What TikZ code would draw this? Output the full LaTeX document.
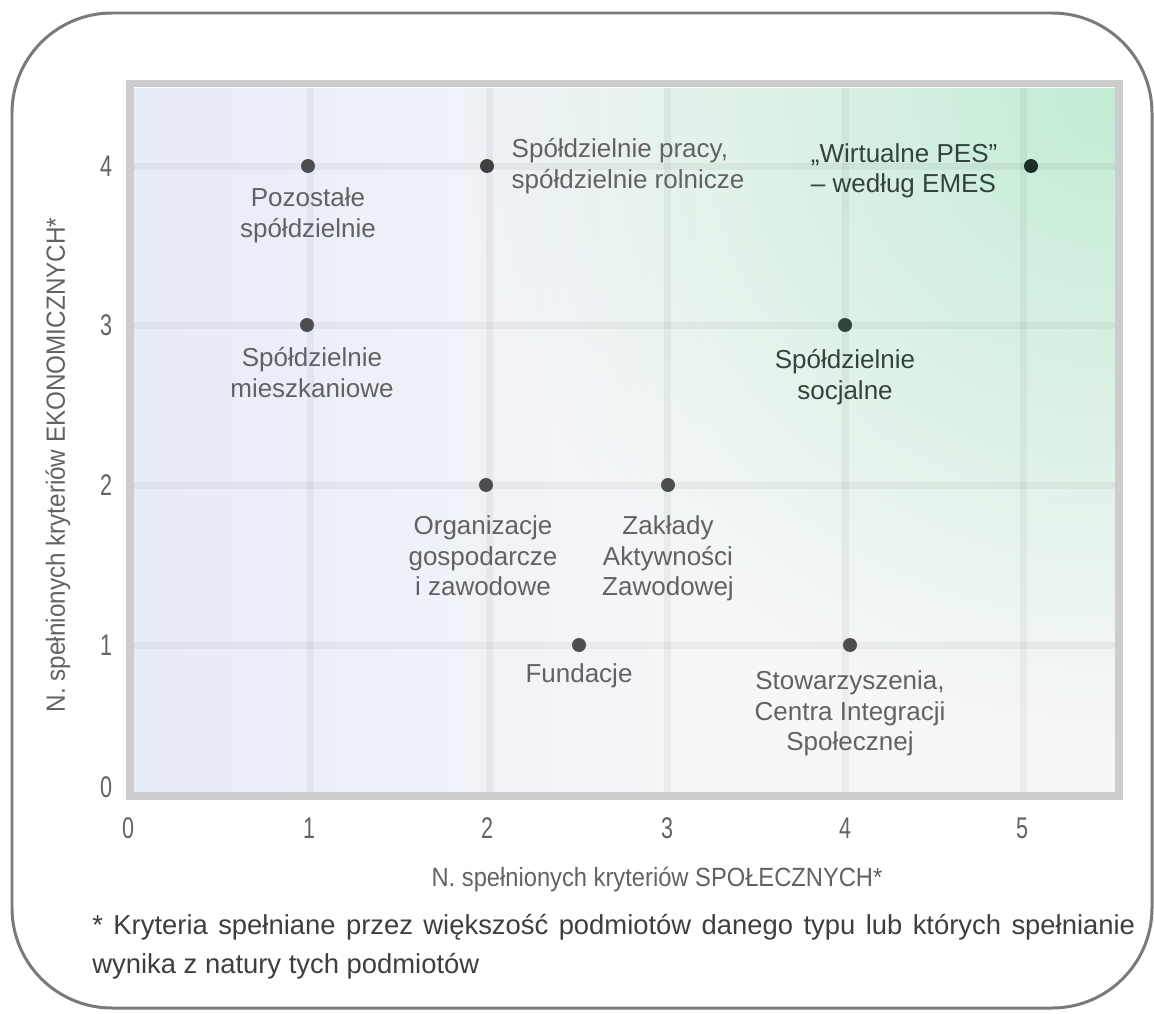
\documentclass[tikz,border=0pt]{standalone}
\usepackage{fontspec}
\setmainfont{Liberation Sans}
\usepackage{graphicx}
\usetikzlibrary{positioning,fadings}

\definecolor{framegray}{HTML}{7A7A7A}
\definecolor{axisgray}{HTML}{CDCDCF}
\definecolor{dotgray}{HTML}{4E4E51}
\definecolor{textgray}{HTML}{626264}
\definecolor{notegray}{HTML}{3E3E40}
\definecolor{bluetint}{HTML}{E7ECF8}
\definecolor{greentint}{HTML}{C2ECD4}
\definecolor{darkgreen}{HTML}{1C2F25}
\definecolor{greentext}{HTML}{34443C}
\definecolor{basefill}{HTML}{F7F7F8}

\tikzfading[name=fade right, left color=transparent!0, right color=transparent!100]
\tikzfading[name=glow, inner color=transparent!0, outer color=transparent!100]

\newcommand{\narrow}[1]{\scalebox{0.72}[1]{#1}}

\begin{document}
\begin{tikzpicture}[x=0.02cm, y=-0.02cm]
 \tikzset{dot/.style = {circle, fill=dotgray, inner sep=0pt, minimum size=0.28cm}}
 \tikzset{lbl/.style = {text=textgray, inner sep=0pt, align=center, anchor=north, font=\fontsize{14.8}{17.4}\selectfont}}
 \tikzset{tick/.style = {text=textgray, inner sep=0pt, font=\fontsize{17}{20}\selectfont}}
 \tikzset{axistitle/.style = {text=textgray, inner sep=0pt, font=\fontsize{15}{18}\selectfont}}
 \tikzset{note/.style = {text=notegray, inner sep=0pt, anchor=base west, font=\fontsize{15.6}{18}\selectfont}}
 \tikzset{gridline/.style = {line width=0.14cm, black, opacity=0.045}}
 \useasboundingbox (0,0) rectangle (1154,1014);
 \draw[framegray, line width=0.06cm, rounded corners=2cm] (12,13) rectangle (1152,1008);

 % chart background
 \fill[basefill] (133,88) rectangle (1115,792);
 \fill[bluetint, path fading=fade right] (133,88) rectangle (700,792);
 \begin{scope}
  \clip (133,88) rectangle (1115,792);
  \fill[greentint, path fading=glow] (1115,88) circle (13cm);
 \end{scope}

 % grid and frame
 \foreach \gx in {310,489,667,845,1023} \draw[gridline] (\gx,88) -- (\gx,792);
 \foreach \gy in {166,325,485,645} \draw[gridline] (133,\gy) -- (1115,\gy);
 \draw[axisgray, line width=0.16cm] (129.5,83.5) rectangle (1119,795.5);

 % ticks
 \foreach \v/\ty in {0/787,1/645,2/485,3/325,4/166}
  \node[tick] (ytick\v) at (106,\ty) {\narrow{\v}};
 \foreach \v/\tx in {0/128,1/309,2/487,3/667,4/845,5/1022}
  \node[tick] (xtick\v) at (\tx,828) {\narrow{\v}};

 \node[axistitle] (xtitle) at (657,880) {\scalebox{0.9}[1]{N. spełnionych kryteriów SPOŁECZNYCH*}};
 \node[axistitle, rotate=90] (ytitle) at (58,465) {\scalebox{0.92}[1]{N. spełnionych kryteriów EKONOMICZNYCH*}};

 % points
 \node[dot] (pozostale) at (308,166) {};
 \node[dot, fill=black!75] (pracy) at (487,166) {};
 \node[dot, fill=darkgreen] (wirtualne) at (1031,166) {};
 \node[dot] (mieszkaniowe) at (307,325) {};
 \node[dot, fill=darkgreen!90] (socjalne) at (845,325) {};
 \node[dot] (organizacje) at (486,485) {};
 \node[dot] (zaklady) at (668,485) {};
 \node[dot] (fundacje) at (579,645) {};
 \node[dot] (stowarzyszenia) at (850,645) {};

 \node[lbl, below=0.28cm of pozostale] (pozostale-l) {Pozostałe\\spółdzielnie};
 \node[lbl, anchor=north west, align=left] (pracy-l) at ([xshift=0.34cm, yshift=0.56cm]pracy.east) {Spółdzielnie pracy,\\spółdzielnie rolnicze};
 \node[lbl, anchor=north east, align=left, text=greentext] (wirtualne-l) at ([xshift=-0.52cm, yshift=0.46cm]wirtualne.west) {„Wirtualne PES”\\– według EMES};
 \node[lbl, below=0.3cm of mieszkaniowe, xshift=0.1cm] (mieszkaniowe-l) {Spółdzielnie\\mieszkaniowe};
 \node[lbl, below=0.34cm of socjalne, text=greentext] (socjalne-l) {Spółdzielnie\\socjalne};
 \node[lbl, below=0.46cm of organizacje, xshift=-0.06cm] (organizacje-l) {Organizacje\\gospodarcze\\i zawodowe};
 \node[lbl, below=0.46cm of zaklady] (zaklady-l) {Zakłady\\Aktywności\\Zawodowej};
 \node[lbl, below=0.22cm of fundacje] (fundacje-l) {Fundacje};
 \node[lbl, below=0.36cm of stowarzyszenia] (stowarzyszenia-l) {Stowarzyszenia,\\Centra Integracji\\Społecznej};

 % footnote
 \node[note] (note1) at (92,934) {\makebox[20.86cm][s]{* Kryteria spełniane przez większość podmiotów danego typu lub których spełnianie}};
 \node[note] (note2) at (92,973) {wynika z natury tych podmiotów};
\end{tikzpicture}
\end{document}
